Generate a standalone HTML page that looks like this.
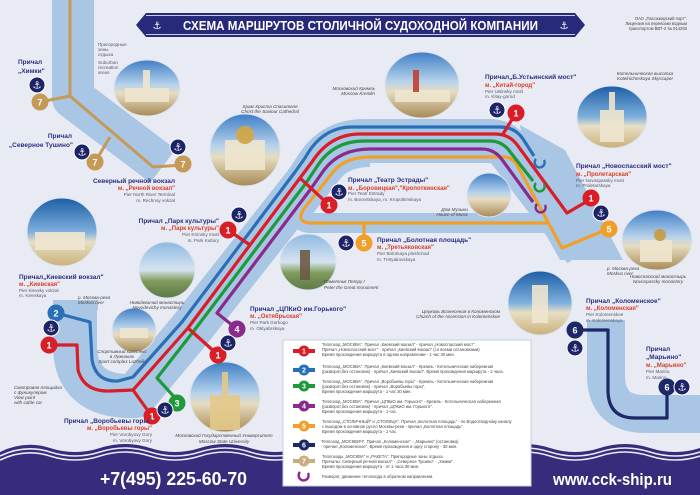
<!DOCTYPE html>
<html><head><meta charset="utf-8"><style>
html,body{margin:0;padding:0;background:#e9ebf4;}
svg{display:block;font-family:"Liberation Sans","DejaVu Sans",sans-serif;}
.pn{font-size:6.5px;font-weight:bold;fill:#2b2f80;}
.mt{font-size:6px;font-weight:bold;fill:#d8402c;}
.en{font-size:4.6px;fill:#555a66;}
.cap{font-size:4.6px;fill:#444;font-style:italic;}
.lg{font-size:4.2px;fill:#444;}
.nb{font-size:9px;font-weight:bold;fill:#fff;text-anchor:middle;}
.an{font-size:10px;fill:#fff;text-anchor:middle;font-family:"DejaVu Sans",sans-serif;}
</style></head><body>
<svg width="700" height="495" viewBox="0 0 700 495" xmlns="http://www.w3.org/2000/svg">
<defs>
<linearGradient id="ph" x1="0" y1="0" x2="0" y2="1">
<stop offset="0" stop-color="#3f7fc6"/><stop offset="0.45" stop-color="#b8d3ec"/><stop offset="0.6" stop-color="#e6dcc0"/><stop offset="1" stop-color="#a78a55"/></linearGradient>
<linearGradient id="ph2" x1="0" y1="0" x2="0" y2="1">
<stop offset="0" stop-color="#1c5fa6"/><stop offset="0.5" stop-color="#7fb0de"/><stop offset="0.65" stop-color="#e8dfc4"/><stop offset="1" stop-color="#c9b07a"/></linearGradient>
<linearGradient id="ph3" x1="0" y1="0" x2="0" y2="1">
<stop offset="0" stop-color="#8db9e3"/><stop offset="0.5" stop-color="#d6e3ee"/><stop offset="0.7" stop-color="#7e9a5a"/><stop offset="1" stop-color="#5d7a4a"/></linearGradient>
</defs>
<rect width="700" height="495" fill="#e9ebf4"/>

<!-- rivers -->
<g fill="none" stroke="#a9c6e4" stroke-linejoin="round">
<path d="M73,0 L73,98 L163,166" stroke-width="42"/>
<path d="M75,307 L75,345 Q75,398 135,396 L190,330 L306,183 L318,165 Q334,141 364,141 L490,141 Q503,141 511,153 L585,250" stroke-width="44"/>
<path d="M370,157 Q345,157 333,172 L303,210 Q296,223 312,223 L549,223" stroke-width="20"/>
<path d="M606,320 L606,375 Q606,414 645,414 L700,414" stroke-width="38"/>
</g>
<polygon points="520,125 565,150 623,260 560,260 535,215" fill="#a9c6e4"/>
<rect x="53" y="300" width="45" height="10" fill="#a9c6e4"/>

<!-- brown route 7 -->
<g fill="none" stroke="#c59a56" stroke-width="3">
<path d="M70,0 L70,96 L153,167 L183,165"/>
<path d="M70,96 L40,102"/>
<path d="M110,137 L95,162"/>
</g>

<!-- colored routes -->
<g fill="none" stroke-width="3.2" stroke-linejoin="round">
<path stroke="#f0a028" d="M505,157 L370,157 Q345,157 333,172 L303,210 Q296,223 312,223 L549,223"/>
<path stroke="#f0a028" d="M505,157 Q512,157 517,165 L562,248 L608,229"/>
<path stroke="#f0a028" d="M364,223 L364,243"/>
<path stroke="#8a2a8a" d="M237,329 L217,313 L310,190 L324,170 Q340,149 370,149 L482,149 Q495,149 503,161 L533,202"/>
<path stroke="#1e9a3c" d="M177,400 L157,378 L193,332 L306,183 L318,165 Q334,141 364,141 L490,141 Q503,141 511,153 L533,181"/>
<path stroke="#2a6fb8" d="M56,313 L90,322 L92,360 Q96,382 118,381 L133,377 L182,322 L295,172 L305,158 Q322,127 352,127 L500,127 Q515,127 523,139 L534,156"/>
<path stroke="#d81e26" d="M49,345 L77,345 L78,370 Q84,392 110,391 L133,390 L188,328 L300,178 L312,162 Q330,134 360,134 L495,134 Q510,134 518,146 L567,213 L591,199"/>
<path stroke="#d81e26" d="M503,134 L516,113 M300,178 L328,204 M250,245 L228,230 M188,328 L217,354 M133,390 L151,415"/>
<path stroke="#1d2868" d="M573,330 L608,330 L608,390 Q608,418 635,418 L667,418 L667,388"/>
</g>
<g fill="none" stroke-width="2.4">
<path stroke="#2a6fb8" d="M536,159 A5,5 0 1 0 544,160"/>
<path stroke="#1e9a3c" d="M536,183 A5,5 0 1 0 544,184"/>
<path stroke="#8a2a8a" d="M537,204 A5,5 0 1 0 545,205"/>
</g>

<!-- photos -->
<g stroke="#dde3ee" stroke-width="1">
<ellipse cx="147" cy="88" rx="33" ry="28" fill="url(#ph)"/>
<ellipse cx="422" cy="85" rx="37" ry="33" fill="url(#ph)"/>
<ellipse cx="245" cy="150" rx="35" ry="36" fill="url(#ph)"/>
<ellipse cx="612" cy="117" rx="35" ry="31" fill="url(#ph2)"/>
<ellipse cx="489" cy="195" rx="22" ry="22" fill="url(#ph)"/>
<ellipse cx="62" cy="232" rx="35" ry="34" fill="url(#ph2)"/>
<ellipse cx="657" cy="240" rx="35" ry="30" fill="url(#ph)"/>
<ellipse cx="308" cy="262" rx="28" ry="28" fill="url(#ph3)"/>
<ellipse cx="167" cy="270" rx="28" ry="28" fill="url(#ph3)"/>
<ellipse cx="134" cy="330" rx="22" ry="22" fill="url(#ph)"/>
<ellipse cx="540" cy="303" rx="32" ry="32" fill="url(#ph2)"/>
<ellipse cx="225" cy="397" rx="35" ry="35" fill="url(#ph)"/>
</g>
<g fill="#efe6cf" opacity="0.9">
<rect x="125" y="88" width="44" height="14"/><rect x="143" y="70" width="7" height="20"/>
<rect x="395" y="90" width="55" height="12"/><rect x="413" y="70" width="6" height="22" fill="#c04030"/>
<rect x="225" y="140" width="40" height="30"/><circle cx="245" cy="135" r="9" fill="#d7a640"/>
<rect x="600" y="110" width="24" height="32"/><rect x="609" y="92" width="6" height="20"/>
<rect x="35" y="232" width="50" height="18"/>
<rect x="640" y="240" width="32" height="22"/><circle cx="660" cy="235" r="6" fill="#c99a3a"/>
<rect x="532" y="285" width="16" height="38"/>
<rect x="210" y="395" width="30" height="35" fill="#e4c98a"/><rect x="222" y="372" width="6" height="25" fill="#e4c98a"/>
<rect x="300" y="250" width="10" height="30" fill="#6b5a45"/>
<rect x="120" y="328" width="28" height="10"/>
</g>

<!-- number badges -->
<g>
<circle cx="40" cy="102" r="8.5" fill="#c59a56"/><text class="nb" x="40" y="105.5">7</text>
<circle cx="95" cy="162" r="8.5" fill="#c59a56"/><text class="nb" x="95" y="165.5">7</text>
<circle cx="183" cy="164" r="8.5" fill="#c59a56"/><text class="nb" x="183" y="167.5">7</text>
<circle cx="516" cy="113" r="8.5" fill="#d81e26"/><text class="nb" x="516" y="116.5">1</text>
<circle cx="329" cy="205" r="8.5" fill="#d81e26"/><text class="nb" x="329" y="208.5">1</text>
<circle cx="228" cy="230" r="8.5" fill="#d81e26"/><text class="nb" x="228" y="233.5">1</text>
<circle cx="591" cy="198" r="8.5" fill="#d81e26"/><text class="nb" x="591" y="201.5">1</text>
<circle cx="609" cy="229" r="8.5" fill="#f0a028"/><text class="nb" x="609" y="232.5">5</text>
<circle cx="364" cy="243" r="8.5" fill="#f0a028"/><text class="nb" x="364" y="246.5">5</text>
<circle cx="56" cy="313" r="8.5" fill="#2a6fb8"/><text class="nb" x="56" y="316.5">2</text>
<circle cx="49" cy="345" r="8.5" fill="#d81e26"/><text class="nb" x="49" y="348.5">1</text>
<circle cx="237" cy="329" r="8.5" fill="#8a2a8a"/><text class="nb" x="237" y="332.5">4</text>
<circle cx="218" cy="355" r="8.5" fill="#d81e26"/><text class="nb" x="218" y="358.5">1</text>
<circle cx="152" cy="416" r="8.5" fill="#d81e26"/><text class="nb" x="152" y="419.5">1</text>
<circle cx="177" cy="403" r="8.5" fill="#1e9a3c"/><text class="nb" x="177" y="406.5">3</text>
<circle cx="575" cy="330" r="8.5" fill="#1d2868"/><text class="nb" x="575" y="333.5">6</text>
<circle cx="667" cy="387" r="8.5" fill="#1d2868"/><text class="nb" x="667" y="390.5">6</text>
</g>
<g>
<g transform="translate(37,85)"><circle r="8" fill="#1c2366" stroke="#fff"/><text class="an" y="3.5">⚓</text></g>
<g transform="translate(82,152)"><circle r="8" fill="#1c2366" stroke="#fff"/><text class="an" y="3.5">⚓</text></g>
<g transform="translate(178,147)"><circle r="8" fill="#1c2366" stroke="#fff"/><text class="an" y="3.5">⚓</text></g>
<g transform="translate(497,110)"><circle r="8" fill="#1c2366" stroke="#fff"/><text class="an" y="3.5">⚓</text></g>
<g transform="translate(339,192)"><circle r="8" fill="#1c2366" stroke="#fff"/><text class="an" y="3.5">⚓</text></g>
<g transform="translate(239,215)"><circle r="8" fill="#1c2366" stroke="#fff"/><text class="an" y="3.5">⚓</text></g>
<g transform="translate(601,213)"><circle r="8" fill="#1c2366" stroke="#fff"/><text class="an" y="3.5">⚓</text></g>
<g transform="translate(346,243)"><circle r="8" fill="#1c2366" stroke="#fff"/><text class="an" y="3.5">⚓</text></g>
<g transform="translate(51,328)"><circle r="8" fill="#1c2366" stroke="#fff"/><text class="an" y="3.5">⚓</text></g>
<g transform="translate(228,343)"><circle r="8" fill="#1c2366" stroke="#fff"/><text class="an" y="3.5">⚓</text></g>
<g transform="translate(165,410)"><circle r="8" fill="#1c2366" stroke="#fff"/><text class="an" y="3.5">⚓</text></g>
<g transform="translate(575,348)"><circle r="8" fill="#1c2366" stroke="#fff"/><text class="an" y="3.5">⚓</text></g>
<g transform="translate(682,387)"><circle r="8" fill="#1c2366" stroke="#fff"/><text class="an" y="3.5">⚓</text></g>
</g>

<!-- banner -->
<polygon points="136,25 146,13 575,13 585,25 575,37 146,37" fill="#27297a"/>
<path d="M146,15.5 L575,15.5 M146,34.5 L575,34.5" stroke="#fff" stroke-width="0.8"/>
<text x="183" y="30" font-size="12.5" font-weight="bold" fill="#fff" textLength="355" lengthAdjust="spacingAndGlyphs">СХЕМА МАРШРУТОВ СТОЛИЧНОЙ СУДОХОДНОЙ КОМПАНИИ</text>
<text class="an" x="157" y="29">⚓</text><text class="an" x="564" y="29">⚓</text>
<text class="lg" x="687" y="20" text-anchor="end">ОАО „Пассажирский порт".</text>
<text class="lg" x="687" y="25" text-anchor="end">Лицензия на перевозки водным</text>
<text class="lg" x="687" y="30" text-anchor="end">транспортом ВВТ-2 № 014293</text>

<g>
<text class="en" x="98" y="46">Пригородные</text><text class="en" x="98" y="51">зоны</text><text class="en" x="98" y="56">отдыха</text>
<text class="en" x="98" y="64">Suburban</text><text class="en" x="98" y="69">recreation</text><text class="en" x="98" y="74">areas</text>
<text class="pn" x="18" y="64" font-weight="normal">Причал</text><text class="pn" x="18" y="73">„Химки"</text>
<text class="pn" x="72" y="138" text-anchor="end" font-weight="normal">Причал</text><text class="pn" x="73" y="147" text-anchor="end">„Северное Тушино"</text>
<text class="pn" x="175" y="183" text-anchor="end">Северный речной вокзал</text>
<text class="mt" x="175" y="190" text-anchor="end">м. „Речной вокзал"</text>
<text class="en" x="175" y="196" text-anchor="end">Pier North River Terminal</text>
<text class="en" x="175" y="202" text-anchor="end">m. Rechnoy vokzal</text>
<text class="cap" x="375" y="90" text-anchor="end">Московский Кремль</text><text class="cap" x="375" y="95" text-anchor="end">Moscow Kremlin</text>
<text class="cap" x="270" y="108" text-anchor="middle">Храм Христа Спасителя</text><text class="cap" x="270" y="113" text-anchor="middle">Christ the Saviour Cathedral</text>
<text class="cap" x="645" y="75" text-anchor="middle">Котельническая высотка</text><text class="cap" x="645" y="80" text-anchor="middle">Kotelnicheskaya Skyscaper</text>
<text class="pn" x="485" y="79" font-weight="normal">Причал<tspan font-weight="bold">„Б.Устьинский мост"</tspan></text>
<text class="mt" x="485" y="87">м. „Китай-город"</text>
<text class="en" x="485" y="93">Pier Ustinsky most</text><text class="en" x="485" y="98">m. Kitay-gorod</text>
<text class="pn" x="576" y="168" font-weight="normal">Причал <tspan font-weight="bold">„Новоспасский мост"</tspan></text>
<text class="mt" x="576" y="176">м. „Пролетарская"</text>
<text class="en" x="576" y="182">Pier Novospassky most</text><text class="en" x="576" y="187">m. Proletarskaya</text>
<text class="pn" x="348" y="182" font-weight="normal">Причал <tspan font-weight="bold">„Театр Эстрады"</tspan></text>
<text class="mt" x="348" y="190">м. „Боровицкая","Кропоткинская"</text>
<text class="en" x="348" y="195">Pier Teatr Estrady</text><text class="en" x="348" y="201">m. Borovitskaya, m. Kropotkinskaya</text>
<text class="cap" x="468" y="211" text-anchor="end">Дом Музыки</text><text class="cap" x="468" y="216" text-anchor="end">House of Music</text>
<text class="pn" x="219" y="223" text-anchor="end" font-weight="normal">Причал <tspan font-weight="bold">„Парк культуры"</tspan></text>
<text class="mt" x="219" y="230" text-anchor="end">м. „Парк культуры"</text>
<text class="en" x="219" y="236" text-anchor="end">Pier Krimsky most</text><text class="en" x="219" y="242" text-anchor="end">m. Park Kultury</text>
<text class="pn" x="377" y="242" font-weight="normal">Причал <tspan font-weight="bold">„Болотная площадь"</tspan></text>
<text class="mt" x="377" y="249">м. „Третьяковская"</text>
<text class="en" x="377" y="255">Pier Bolotnaya ploshchad</text><text class="en" x="377" y="261">m. Tretyakovskaya</text>
<text class="cap" x="607" y="270">р. Москва-река</text><text class="cap" x="607" y="275">Moskva river</text>
<text class="cap" x="658" y="278" text-anchor="middle">Новоспасский монастырь</text><text class="cap" x="658" y="283" text-anchor="middle">Novospassky monastery</text>
<text class="cap" x="324" y="283">Памятник Петру I</text><text class="cap" x="324" y="289">Peter the Great monument</text>
<text class="pn" x="19" y="279" font-weight="normal">Причал<tspan font-weight="bold">„Киевский вокзал"</tspan></text>
<text class="mt" x="19" y="286">м. „Киевская"</text>
<text class="en" x="19" y="292">Pier Kievsky vokzal</text><text class="en" x="19" y="297">m. Kievskaya</text>
<text class="cap" x="78" y="299">р. Москва-река</text><text class="cap" x="78" y="304">Moskva river</text>
<text class="cap" x="157" y="304" text-anchor="middle">Новодевичий монастырь</text><text class="cap" x="157" y="309" text-anchor="middle">Novodevichy monastery</text>
<text class="cap" x="122" y="353" text-anchor="middle">Спортивный комплекс</text><text class="cap" x="122" y="358" text-anchor="middle">в Лужниках</text><text class="cap" x="122" y="363" text-anchor="middle">Sport complex Luzhniki</text>
<text class="cap" x="14" y="389">Смотровая площадка</text><text class="cap" x="14" y="394">с фуникулером</text><text class="cap" x="14" y="399">View point</text><text class="cap" x="14" y="404">with cable car</text>
<text class="pn" x="250" y="311" font-weight="normal">Причал <tspan font-weight="bold">„ЦПКиО им.Горького"</tspan></text>
<text class="mt" x="250" y="318">м. „Октябрьская"</text>
<text class="en" x="250" y="324">Pier Park Gorkogo</text><text class="en" x="250" y="330">m. Oktyabrskaya</text>
<text class="cap" x="500" y="313" text-anchor="end">Церковь Вознесения в Коломенском</text><text class="cap" x="500" y="318" text-anchor="end">Church of the Ascension in Kolomenskoe</text>
<text class="pn" x="586" y="303" font-weight="normal">Причал <tspan font-weight="bold">„Коломенское"</tspan></text>
<text class="mt" x="586" y="310">м. „Коломенская"</text>
<text class="en" x="586" y="316">Pier Kolomenskoe</text><text class="en" x="586" y="322">m. Kolomenskaya</text>
<text class="pn" x="646" y="351" font-weight="normal">Причал</text><text class="pn" x="646" y="359">„Марьино"</text>
<text class="mt" x="646" y="367">м. „Марьино"</text>
<text class="en" x="646" y="373">Pier Marino</text><text class="en" x="646" y="379">m. Marino</text>
<text class="pn" x="152" y="423" text-anchor="end" font-weight="normal">Причал <tspan font-weight="bold">„Воробьевы горы"</tspan></text>
<text class="mt" x="152" y="430" text-anchor="end">м. „Воробьевы горы"</text>
<text class="en" x="152" y="436" text-anchor="end">Pier Vorobyovy Gory</text><text class="en" x="152" y="442" text-anchor="end">m. Vorobyovy Gory</text>
<text class="cap" x="224" y="437" text-anchor="middle">Московский Государственный Университет</text><text class="cap" x="224" y="443" text-anchor="middle">Moscow State University</text>
</g>

<path d="M0,452 Q25,440 50,448 T100,448 T150,448 T200,448 T250,448 T300,448 T350,448 T400,448 T450,448 T500,448 T550,448 T600,448 T650,448 T700,448 L700,495 L0,495 Z" fill="#372c7c"/>
<g fill="none" stroke="#e9ebf4" stroke-width="1.6">
<path d="M0,456 Q25,444 50,452 T100,452 T150,452 T200,452 T250,452 T300,452 T350,452 T400,452 T450,452 T500,452 T550,452 T600,452 T650,452 T700,452"/>
<path d="M0,460 Q25,448 50,456 T100,456 T150,456 T200,456 T250,456 T300,456 T350,456 T400,456 T450,456 T500,456 T550,456 T600,456 T650,456 T700,456"/>
</g>
<text x="100" y="485" font-size="18.5" font-weight="bold" fill="#fff" textLength="147" lengthAdjust="spacingAndGlyphs">+7(495) 225-60-70</text>
<text x="553" y="485" font-size="17" font-weight="bold" fill="#fff" textLength="119" lengthAdjust="spacingAndGlyphs">www.cck-ship.ru</text>

<rect x="283" y="340" width="248" height="146" fill="#fff" stroke="#c9cce0"/>
<g stroke-width="4">
<line x1="293" y1="351" x2="315" y2="351" stroke="#d81e26"/><circle cx="304" cy="351" r="5.5" fill="#d81e26"/>
<line x1="293" y1="370" x2="315" y2="370" stroke="#2a6fb8"/><circle cx="304" cy="370" r="5.5" fill="#2a6fb8"/>
<line x1="293" y1="386" x2="315" y2="386" stroke="#1e9a3c"/><circle cx="304" cy="386" r="5.5" fill="#1e9a3c"/>
<line x1="293" y1="406" x2="315" y2="406" stroke="#8a2a8a"/><circle cx="304" cy="406" r="5.5" fill="#8a2a8a"/>
<line x1="293" y1="426" x2="315" y2="426" stroke="#f0a028"/><circle cx="304" cy="426" r="5.5" fill="#f0a028"/>
<line x1="293" y1="445" x2="315" y2="445" stroke="#1d2868"/><circle cx="304" cy="445" r="5.5" fill="#1d2868"/>
<line x1="293" y1="461" x2="315" y2="461" stroke="#c9ad7c"/><circle cx="304" cy="461" r="5.5" fill="#c9ad7c"/>
</g>
<g font-size="7" font-weight="bold" fill="#fff" text-anchor="middle">
<text x="304" y="353.5">1</text><text x="304" y="372.5">2</text><text x="304" y="388.5">3</text><text x="304" y="408.5">4</text><text x="304" y="428.5">5</text><text x="304" y="447.5">6</text><text x="304" y="463.5">7</text>
</g>
<path d="M300,472 A5,5 0 1 0 308,473" fill="none" stroke="#8a2a8a" stroke-width="2.4"/>
<g>
<text class="lg" x="322" y="346">Теплоход „МОСКВА". Причал „Киевский вокзал" - причал „Новоспасский мост".</text>
<text class="lg" x="322" y="351">Причал „Новоспасский мост" - причал „Киевский вокзал" (со всеми остановками)</text>
<text class="lg" x="322" y="356">Время прохождения маршрута в одном направлении - 1 час 30 мин.</text>
<text class="lg" x="322" y="368">Теплоход „МОСКВА". Причал „Киевский вокзал" - Кремль - Котельническая набережная</text>
<text class="lg" x="322" y="373">(разворот,без остановок) - причал „Киевский вокзал". Время прохождения маршрута - 2 часа.</text>
<text class="lg" x="322" y="383">Теплоход „МОСКВА". Причал „Воробьевы горы" - Кремль - Котельническая набережная</text>
<text class="lg" x="322" y="388">(разворот,без остановок) - причал „Воробьевы горы".</text>
<text class="lg" x="322" y="393">Время прохождения маршрута - 1 час 30 мин.</text>
<text class="lg" x="322" y="403">Теплоход „МОСКВА". Причал „ЦПКиО им. Горького" - Кремль - Котельническая набережная</text>
<text class="lg" x="322" y="408">(разворот,без остановок) - причал „ЦПКиО им. Горького".</text>
<text class="lg" x="322" y="413">Время прохождения маршрута - 1 час.</text>
<text class="lg" x="322" y="423">Теплоход „СТОЛИЧНЫЙ" и „СТОЛИЦА". Причал „Болотная площадь" - по Водоотводному каналу</text>
<text class="lg" x="322" y="428">с выходом в основное русло Москвы-реки - причал „Болотная площадь".</text>
<text class="lg" x="322" y="433">Время прохождения маршрута - 1 час.</text>
<text class="lg" x="321" y="443">Теплоход „МОСКВИЧ". Причал „Коломенское" - „Марьино" (остановка)</text>
<text class="lg" x="321" y="448">- причал „Коломенское". Время прохождения в одну сторону - 30 мин.</text>
<text class="lg" x="322" y="458">Теплоходы „МОСКВА" и „РАКЕТА". Пригородные зоны отдыха.</text>
<text class="lg" x="322" y="463">Причалы: Северный речной вокзал" - „Северное Тушино" - „Химки".</text>
<text class="lg" x="322" y="468">Время прохождения маршрута - от 1 часа 30 мин.</text>
<text class="lg" x="322" y="478">Разворот, движение теплохода в обратном направлении.</text>
</g>
</svg>
</body></html>
